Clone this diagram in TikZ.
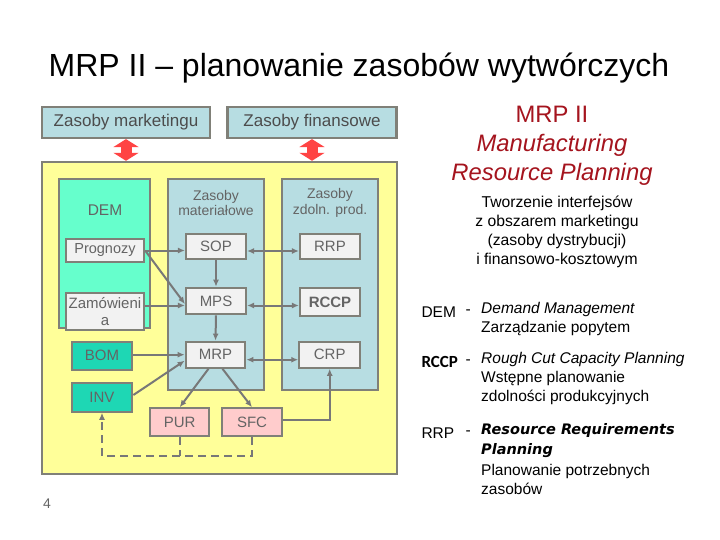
\documentclass[tikz,border=0pt]{standalone}
\usepackage{fontspec}
\setmainfont{Liberation Sans}
\newfontfamily\carlito{Carlito}
\newfontfamily\dejavu{DejaVu Sans}
\usetikzlibrary{arrows.meta,calc}
\definecolor{yel}{RGB}{255,255,153}
\definecolor{colblue}{RGB}{183,221,226}
\definecolor{demgreen}{RGB}{102,255,204}
\definecolor{teal2}{RGB}{30,215,180}
\definecolor{lgray}{RGB}{242,242,242}
\definecolor{pink2}{RGB}{255,204,204}
\definecolor{bordergray}{RGB}{128,128,120}
\definecolor{arrgray}{RGB}{120,120,120}
\definecolor{boxtext}{RGB}{100,100,100}
\definecolor{redarrow}{RGB}{255,68,68}
\definecolor{darkred}{RGB}{165,20,30}
\tikzset{
  fs/.style={font=\fontsize{#1}{18}\selectfont},
  box/.style={draw=bordergray, line width=2.2pt, inner sep=0pt, align=center, text=boxtext, font=\fontsize{15}{17}\selectfont},
  arr/.style={draw=arrgray, line width=2pt, -{Latex[length=7pt,width=6pt]}},
  darr/.style={draw=arrgray, line width=2pt, {Latex[length=7pt,width=6pt]}-{Latex[length=7pt,width=6pt]}},
  dashline/.style={draw=arrgray, line width=2pt, dash pattern=on 8pt off 5pt},
  redarr/.style={draw=redarrow, line width=11pt, {Triangle[width=25pt,length=8pt]}-{Triangle[width=25pt,length=8pt]}},
}
\begin{document}
\begin{tikzpicture}[x=1pt,y=-1pt]
\useasboundingbox (0,0) rectangle (720,540);
\fill[white] (0,0) rectangle (720,540);

% title
\node[font=\fontsize{32}{36}\selectfont] (title) at (359,68) {MRP II -- planowanie zasobów wytwórczych};

% top boxes
\node[box, fill=colblue, minimum width=168, minimum height=31, font=\fontsize{17}{20}\selectfont, text=black!70] (mark) at (126,122.5) {Zasoby marketingu};
\node[box, fill=colblue, minimum width=169, minimum height=31, font=\fontsize{17}{20}\selectfont, text=black!70] (fin) at (312,122.5) {Zasoby finansowe};

% yellow area
\node[box, fill=yel, minimum width=355, minimum height=312] (yelbox) at (219.2,317.9) {};

\draw[redarr] (mark.south) -- (mark.south |- yelbox.north);
\draw[redarr] (fin.south) -- (fin.south |- yelbox.north);

% columns
\node[box, fill=demgreen, minimum width=90.7, minimum height=148.7] (dem) at (104.7,253.3) {};
\node[box, fill=colblue, minimum width=96.6, minimum height=211] (matcol) at (216,284.5) {};
\node[box, fill=colblue, minimum width=96.6, minimum height=211] (capcol) at (330,284.5) {};

\node[text=boxtext, fs=15.5] (demlbl) at (105,210) {DEM};
\node[text=boxtext, align=center, font=\fontsize{14}{15.5}\selectfont] (matlbl) at (216,203) {Zasoby\\materiałowe};
\node[text=boxtext, align=center, font=\fontsize{14}{15.5}\selectfont] (caplbl) at (330,203) {Zasoby\\zdoln. prod.};

% inner boxes
\node[box, fill=lgray, minimum width=78, minimum height=22.4, font=\fontsize{14.5}{17}\selectfont] (prog) at (105,250.5) {Prognozy};
\node[box, fill=lgray, minimum width=78, minimum height=36.7, font=\fontsize{15}{17}\selectfont] (zam) at (105,311.7) {Zamówieni\\a};
\node[box, fill=lgray, minimum width=60, minimum height=25] (sop) at (216,246.5) {SOP};
\node[box, fill=lgray, minimum width=60, minimum height=26.5] (mps) at (216,301) {MPS};
\node[box, fill=lgray, minimum width=59.5, minimum height=26] (mrp) at (215.5,354.7) {MRP};
\node[box, fill=lgray, minimum width=60, minimum height=25] (rrp) at (330,246.5) {RRP};
\node[box, fill=lgray, minimum width=60, minimum height=28, font=\bfseries\fontsize{15}{17}\selectfont] (rccp) at (330,302) {RCCP};
\node[box, fill=lgray, minimum width=60.7, minimum height=26] (crp) at (329.7,354.7) {CRP};
\node[box, fill=teal2, minimum width=60.6, minimum height=28.3] (bom) at (102,355.8) {BOM};
\node[box, fill=teal2, minimum width=60.6, minimum height=28.3] (inv) at (102,397.5) {INV};
\node[box, fill=pink2, minimum width=59.3, minimum height=27.7] (pur) at (179.7,422.2) {PUR};
\node[box, fill=pink2, minimum width=59.4, minimum height=27.7] (sfc) at (252,422.2) {SFC};

% arrows
\draw[arr] (prog.east) -- (prog.east -| sop.west);
\draw[arr] (prog.east) -- ([yshift=-3pt]mps.west);
\draw[arr] (sop.south) -- (mps.north);
\draw[darr] ([yshift=-4.5pt]sop.east) -- ([yshift=-4.5pt]rrp.west);
\draw[arr] ([yshift=-4.5pt]zam.east |- mps.west) -- ([yshift=-4.5pt]mps.west);
\draw[darr] ([yshift=-4.5pt]mps.east) -- ([yshift=-4.5pt]mps.east -| rccp.west);
\draw[arr] (mps.south) -- (mrp.north);
\draw[arr] (bom.east |- mrp.west) -- (mrp.west);
\draw[arr] ([yshift=2.5pt]inv.east) -- ([yshift=-6pt]mrp.west);
\draw[darr] ([yshift=-5pt]mrp.east) -- ([yshift=-5pt]crp.west);
\draw[arr] ([xshift=-7pt]mrp.south) -- (pur.north);
\draw[arr] ([xshift=7pt]mrp.south) -- (sfc.north);
\draw[arr] ([yshift=2.5pt]sfc.east) -| (crp.south);

% dashed feedback
\coordinate (dl) at (102,456);
\draw[dashline] (pur.south) -- (pur.south |- dl);
\draw[dashline, -{Latex[length=7pt,width=6pt]}] (sfc.south) -- (sfc.south |- dl) -- (dl) -- (inv.south);

% page number
\node[text=boxtext, fs=14] (pg) at (47,504) {4};

% right side
\node[text=darkred, align=center, font=\fontsize{23.8}{29}\selectfont] (mrp2) at (552,146) {MRP II\\\textit{Manufacturing}\\\textit{Resource Planning}};
\node[align=center, font=\fontsize{15.7}{19}\selectfont] (tworz) at (557,231.5) {Tworzenie interfejsów\\z obszarem marketingu\\(zasoby dystrybucji)\\i finansowo-kosztowym};

\node[anchor=west, fs=15.5] (demab) at (418,311.7) {DEM};
\node[anchor=west, fs=15.5] (demd) at (462,311.7) {-};
\node[anchor=north west, align=left, inner sep=0pt, font=\fontsize{15.5}{18.5}\selectfont] (demt) at (481,302.5) {\textit{Demand Management}\\Zarządzanie popytem};

\node[anchor=west, font=\carlito\bfseries\fontsize{17}{20}\selectfont] (rccpab) at (418,362) {RCCP};
\node[anchor=west, fs=15.5] (rccpd) at (462,362) {-};
\node[anchor=north west, align=left, inner sep=0pt, font=\fontsize{15.5}{19}\selectfont] (rccpt) at (481,352.5) {\textit{Rough Cut Capacity Planning}\\Wstępne planowanie\\zdolności produkcyjnych};

\node[anchor=west, fs=15.5] (rrpab) at (418,433.3) {RRP};
\node[anchor=west, fs=15.5] (rrpd) at (462,433.3) {-};
\node[anchor=north west, align=left, inner sep=0pt, font=\dejavu\bfseries\itshape\fontsize{14.5}{20}\selectfont] (rrpt) at (481,423.5) {Resource Requirements\\Planning};
\node[anchor=north west, align=left, inner sep=0pt, font=\fontsize{15.5}{19}\selectfont] (rrpt2) at (481,464) {Planowanie potrzebnych\\zasobów};
\end{tikzpicture}
\end{document}
